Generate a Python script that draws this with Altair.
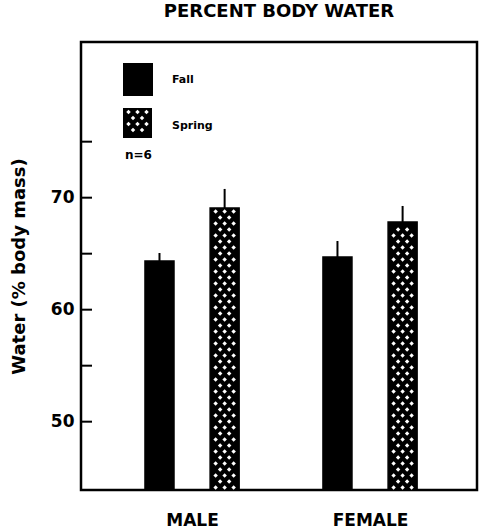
import json
import altair as alt
import pandas as pd

# ---------------- data ----------------
groups = ["MALE", "FEMALE"]
seasons = ["Fall", "Spring"]
group_pos = [1, 2]
fall_mean = [64.35, 64.70]
fall_se = [0.71, 1.43]
spring_mean = [69.08, 67.83]
spring_se = [1.70, 1.43]
y_tick_values = [50, 55, 60, 65, 70, 75]
y_label_values = [50, 60, 70]
note_text = "n=6"

# ---------------- layout constants ----------------
W, H = 396, 448
Y_MIN, Y_MAX = 43.9, 83.9
X_MIN, X_MAX = 0.376, 2.601
SEASON_OFFSET = {"Fall": -0.183, "Spring": 0.183}
HALF_W = 0.0815
FONT = "DejaVu Sans"

px_x = (X_MAX - X_MIN) / W   # x data units per pixel
px_y = (Y_MAX - Y_MIN) / H   # y data units per pixel

rows = []
for gi, g in enumerate(groups):
    for s, means, ses in (("Fall", fall_mean, fall_se), ("Spring", spring_mean, spring_se)):
        xc = group_pos[gi] + SEASON_OFFSET[s]
        rows.append(dict(group=g, season=s, x=xc, lo=xc - HALF_W, hi=xc + HALF_W,
                         mean=means[gi], top=means[gi] + ses[gi], base=Y_MIN))
bars = pd.DataFrame(rows)

# white diamond pattern for spring bars (decoration)
COL = 9 * px_x
ROW = 6 * px_y
dots = []
for r in rows:
    if r["season"] != "Spring":
        continue
    k = 0
    y = Y_MIN + 2.5 * px_y
    while y < r["mean"] - 3 * px_y:
        offs = [-1, 0, 1] if k % 2 == 0 else [-0.5, 0.5]
        for o in offs:
            dots.append(dict(x=r["x"] + o * COL, y=y))
        y += ROW
        k += 1
# legend swatch pattern (swatch spans 42-71 px, 66-96 px in the plot)
sw_cx, sw_top, sw_bot = 56.5, 66, 96
k = 0
py = sw_top + 4
while py < sw_bot - 2:
    offs = [-1, 0, 1] if k % 2 == 0 else [-0.5, 0.5]
    for o in offs:
        dots.append(dict(x=X_MIN + (sw_cx + o * 9) * px_x, y=Y_MAX - py * px_y))
    py += 6
    k += 1
dots = pd.DataFrame(dots)

ticks_df = pd.DataFrame({"v": y_tick_values})
one = pd.DataFrame({"a": [0]})

xs = alt.Scale(domain=[X_MIN, X_MAX], nice=False, zero=False)
ys = alt.Scale(domain=[Y_MIN, Y_MAX], nice=False, zero=False)

label_expr = "%s[datum.value - 1]" % json.dumps(groups)
xaxis = alt.Axis(values=group_pos, labelExpr=label_expr, ticks=False, domain=False,
                 grid=False, title=None, labelFont=FONT, labelFontSize=17,
                 labelFontWeight="bold", labelColor="black", labelPadding=22,
                 labelBaseline="top")
yaxis = alt.Axis(values=y_label_values, ticks=False, domain=False, grid=False,
                 title="Water (% body mass)", titleFont=FONT, titleFontSize=18,
                 titleFontWeight="bold", titleColor="black", titlePadding=22,
                 labelFont=FONT, labelFontSize=17, labelFontWeight="bold",
                 labelColor="black", labelPadding=7)

bar_layer = alt.Chart(bars).mark_bar(fill="black", stroke="black", strokeWidth=1.5).encode(
    x=alt.X("lo:Q", scale=xs, axis=xaxis),
    x2="hi:Q",
    y=alt.Y("mean:Q", scale=ys, axis=yaxis),
    y2="base:Q",
)

err_layer = alt.Chart(bars).mark_rule(color="black", strokeWidth=2).encode(
    x=alt.X("x:Q", scale=xs, axis=xaxis),
    y=alt.Y("mean:Q", scale=ys, axis=yaxis),
    y2="top:Q",
)

dot_layer = alt.Chart(dots).mark_point(shape="diamond", filled=True, color="white",
                                       opacity=1, size=20).encode(
    x=alt.X("x:Q", scale=xs, axis=xaxis),
    y=alt.Y("y:Q", scale=ys, axis=yaxis),
)

tick_layer = alt.Chart(ticks_df).mark_rule(color="black", strokeWidth=2).encode(
    y=alt.Y("v:Q", scale=ys, axis=yaxis),
    x=alt.value(0),
    x2=alt.value(11),
)

fall_swatch = alt.Chart(one).mark_rect(color="black").encode(
    x=alt.value(42), x2=alt.value(72), y=alt.value(21), y2=alt.value(54))
spring_swatch = alt.Chart(one).mark_rect(color="black").encode(
    x=alt.value(42), x2=alt.value(71), y=alt.value(66), y2=alt.value(96))

legend_text = alt.Chart(pd.DataFrame({
    "label": seasons, "px": [91, 91], "py": [38, 84]})).mark_text(
    align="left", baseline="middle", font=FONT, fontSize=11, fontWeight="bold",
    color="black").encode(
    text="label:N",
    x=alt.X("px:Q", scale=None),
    y=alt.Y("py:Q", scale=None),
)

note_layer = alt.Chart(one).mark_text(
    align="left", baseline="middle", font=FONT, fontSize=12, fontWeight="bold",
    color="black", text=note_text).encode(
    x=alt.value(44), y=alt.value(113))

chart = alt.layer(
    bar_layer, err_layer, tick_layer, fall_swatch, spring_swatch, dot_layer,
    legend_text, note_layer,
).resolve_scale(x="shared", y="shared").properties(
    width=W, height=H,
    title=alt.TitleParams("PERCENT BODY WATER", font=FONT, fontSize=18,
                          fontWeight="bold", color="black", anchor="middle",
                          frame="group", offset=21),
    autosize=alt.AutoSizeParams(type="none"),
    padding={"left": 81, "top": 42, "right": 2, "bottom": 42},
    background="white",
).configure_view(stroke="black", strokeWidth=2.5)

chart.save("out.html", embed_options={"renderer": "svg", "actions": False})
